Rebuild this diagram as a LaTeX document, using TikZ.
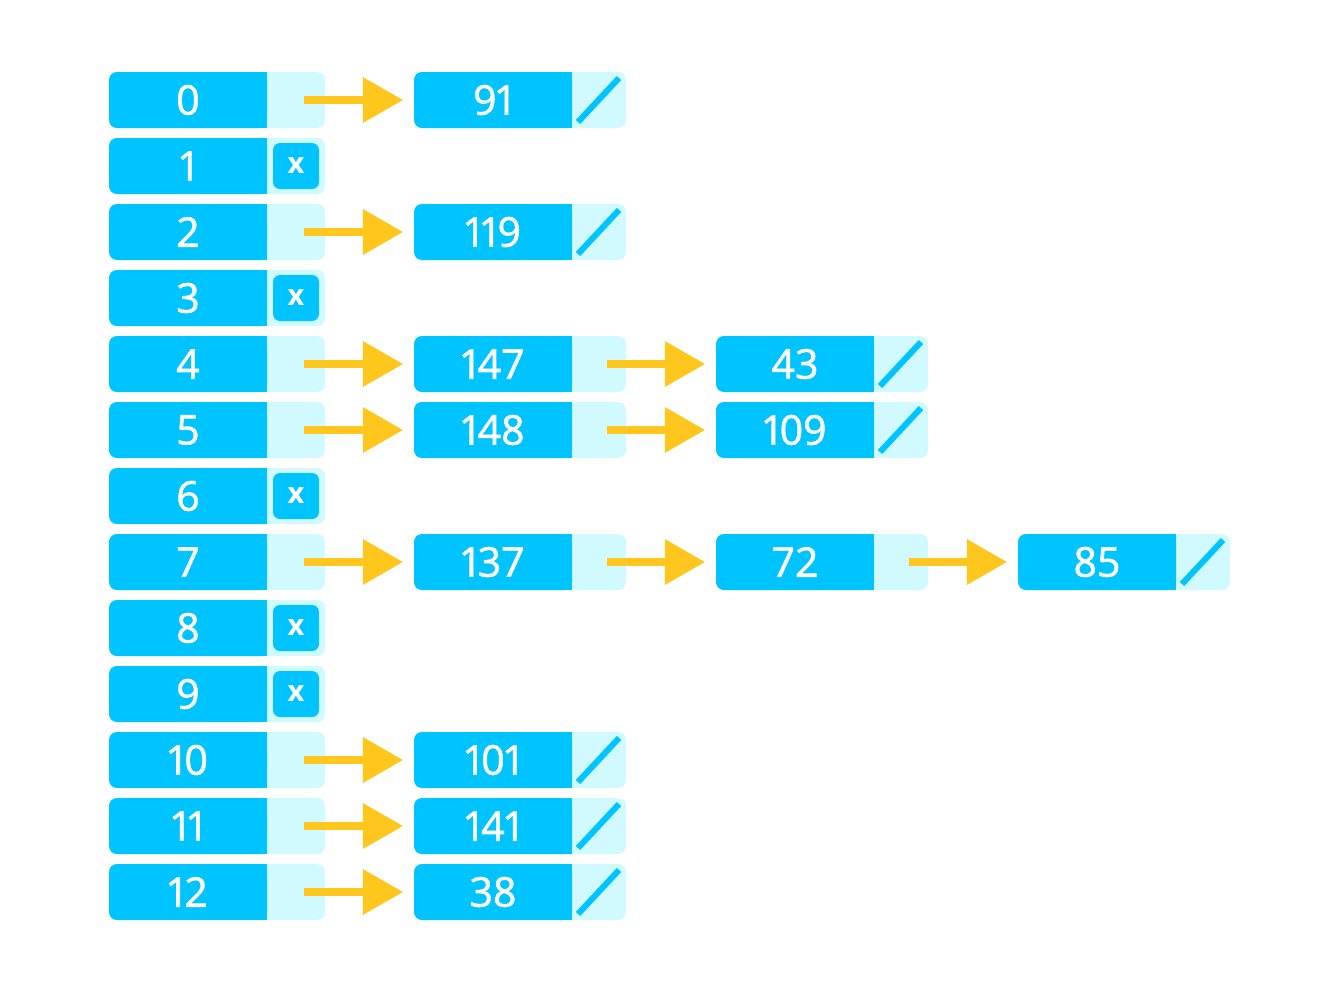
\documentclass[tikz,border=0pt]{standalone}
\usepackage{fontspec}
\setmainfont{Open Sans}[Numbers=Proportional]
\newfontfamily\keyfont{Open Sans}[Numbers=Proportional, FakeBold=1.4]
\usetikzlibrary{arrows.meta,calc}
\definecolor{cblue}{HTML}{00C4FF}
\definecolor{clight}{HTML}{D0FAFF}
\definecolor{cyel}{HTML}{FFC61E}
\tikzset{
  cellbg/.style={fill=clight, rounded corners=8pt, minimum height=56pt, inner sep=0pt, draw=none},
  keybox/.style={fill=cblue, rounded corners=8pt, minimum width=158pt, minimum height=56pt, inner sep=0pt, text=white, font=\keyfont\fontsize{41}{48}\selectfont},
  nilbox/.style={fill=cblue, rounded corners=7pt, minimum size=46pt, inner sep=0pt, text=white, font=\bfseries\fontsize{29}{36}\selectfont},
  ptr/.style={draw=cyel, line width=8pt, -{Triangle[width=46pt,length=40pt,line width=0pt]}, shorten <=8pt, shorten >=11pt},
  slash/.style={draw=cblue, line width=6pt},
}
\newcommand\chaincell[4]{%
  \node[cellbg, minimum width=212pt] (#1bg) at ({#2+106},{100+66*#3}) {};
  \node[keybox] (#1) at ({#2+79},{100+66*#3}) {#4};
  \fill[cblue] ($(#1.north east)+(-10,0)$) rectangle (#1.south east);
  \coordinate (#1p) at ({#2+185},{100+66*#3});
}
\newcommand\nilslash[1]{\draw[slash] ($(#1p)+(-21,22)$) -- ($(#1p)+(20,-22)$);}
\begin{document}
\begin{tikzpicture}[x=1pt,y=-1pt]
\useasboundingbox (0,0) rectangle (1326,991);
% left column
\foreach \i in {0,...,12} {
  \pgfmathsetmacro\yc{100+66*\i}
  \node[cellbg, minimum width=216pt] (bg\i) at (217,\yc) {};
  \node[keybox] (k\i) at (188,\yc) {\i};
  \fill[cblue] ($(k\i.north east)+(-10,0)$) rectangle (k\i.south east);
  \coordinate (p\i) at (296,\yc);
}
\foreach \i in {1,3,6,8,9} { \node[nilbox] (x\i) at (p\i) {x}; }
% chains
\chaincell{a0}{414}{0}{91}\nilslash{a0}
\chaincell{a2}{414}{2}{119}\nilslash{a2}
\chaincell{a4}{414}{4}{147}
\chaincell{b4}{716}{4}{43}\nilslash{b4}
\chaincell{a5}{414}{5}{148}
\chaincell{b5}{716}{5}{109}\nilslash{b5}
\chaincell{a7}{414}{7}{137}
\chaincell{b7}{716}{7}{72}
\chaincell{c7}{1018}{7}{85}\nilslash{c7}
\chaincell{a10}{414}{10}{101}\nilslash{a10}
\chaincell{a11}{414}{11}{141}\nilslash{a11}
\chaincell{a12}{414}{12}{38}\nilslash{a12}
% pointers
\foreach \i in {0,2,4,5,7,10,11,12} { \draw[ptr] (p\i) -- (a\i.west); }
\draw[ptr] (a4p) -- (b4.west);
\draw[ptr] (a5p) -- (b5.west);
\draw[ptr] (a7p) -- (b7.west);
\draw[ptr] (b7p) -- (c7.west);
\end{tikzpicture}
\end{document}
